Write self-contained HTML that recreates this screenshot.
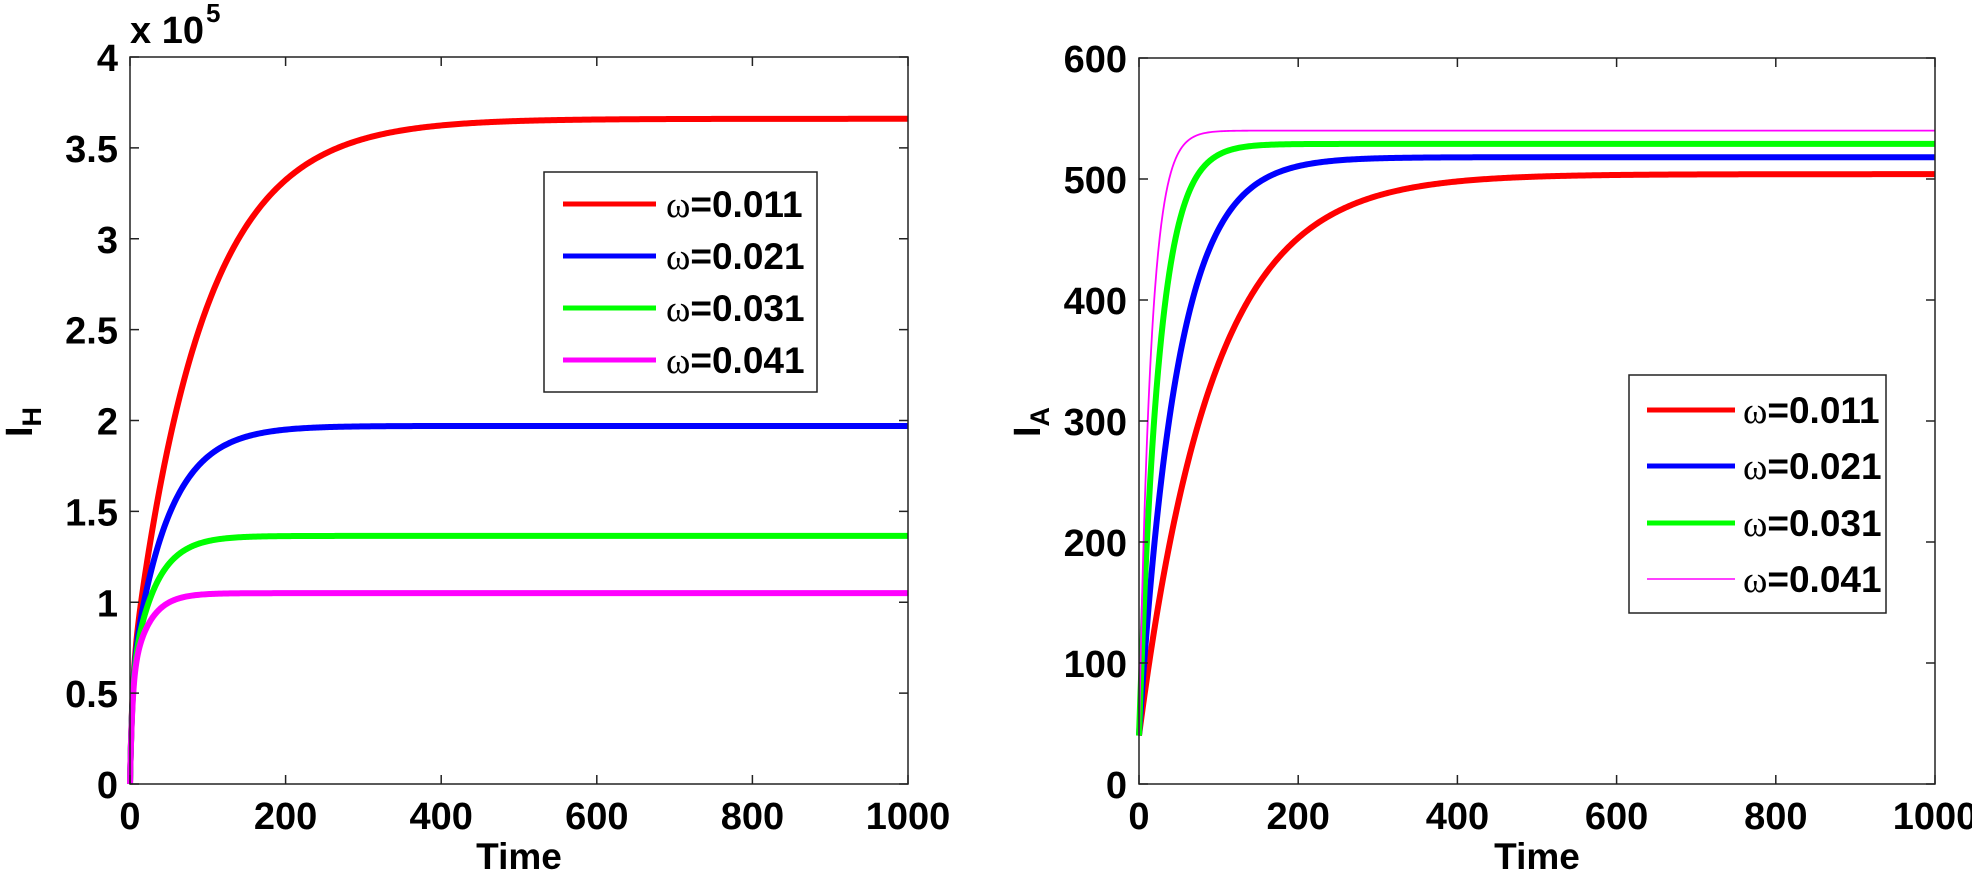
<!DOCTYPE html>
<html><head><meta charset="utf-8"><style>
html,body{margin:0;padding:0;background:#fff;}
svg{display:block;font-family:"Liberation Sans",Arial,sans-serif;font-weight:bold;}
</style></head><body>
<svg id="s" width="1972" height="874" viewBox="0 0 1972 874" xmlns="http://www.w3.org/2000/svg">
<rect width="1972" height="874" fill="#fff"/>
<g id="g"></g>
<!-- left legend -->
<rect x="544" y="172" width="273" height="220" fill="#fff" stroke="#222" stroke-width="1.5"/>
<g stroke-width="5">
<line x1="563" y1="204" x2="656" y2="204" stroke="#ff0000"/>
<line x1="563" y1="256" x2="656" y2="256" stroke="#0000ff"/>
<line x1="563" y1="308" x2="656" y2="308" stroke="#00ff00"/>
<line x1="563" y1="360" x2="656" y2="360" stroke="#ff00ff"/>
</g>
<g font-size="37">
<text x="666" y="217"><tspan font-family="Liberation Serif" font-weight="normal">ω</tspan>=0.011</text>
<text x="666" y="269"><tspan font-family="Liberation Serif" font-weight="normal">ω</tspan>=0.021</text>
<text x="666" y="321"><tspan font-family="Liberation Serif" font-weight="normal">ω</tspan>=0.031</text>
<text x="666" y="373"><tspan font-family="Liberation Serif" font-weight="normal">ω</tspan>=0.041</text>
</g>
<!-- right legend -->
<rect x="1629" y="375" width="257" height="238" fill="#fff" stroke="#222" stroke-width="1.5"/>
<g stroke-width="5">
<line x1="1647" y1="410" x2="1735" y2="410" stroke="#ff0000"/>
<line x1="1647" y1="466" x2="1735" y2="466" stroke="#0000ff"/>
<line x1="1647" y1="523" x2="1735" y2="523" stroke="#00ff00"/>
<line x1="1647" y1="579" x2="1735" y2="579" stroke="#ff00ff" stroke-width="1.5"/>
</g>
<g font-size="37">
<text x="1743" y="423"><tspan font-family="Liberation Serif" font-weight="normal">ω</tspan>=0.011</text>
<text x="1743" y="479"><tspan font-family="Liberation Serif" font-weight="normal">ω</tspan>=0.021</text>
<text x="1743" y="536"><tspan font-family="Liberation Serif" font-weight="normal">ω</tspan>=0.031</text>
<text x="1743" y="592"><tspan font-family="Liberation Serif" font-weight="normal">ω</tspan>=0.041</text>
</g>
<!-- x10^5 -->
<text x="130" y="43" font-size="38">x 10</text>
<text x="206" y="22" font-size="26">5</text>
<!-- axis labels -->
<text x="519" y="869" font-size="37" text-anchor="middle">Time</text>
<text x="1537" y="869" font-size="37" text-anchor="middle">Time</text>
<text transform="translate(32,437) rotate(-90)" font-size="38">I<tspan font-size="27" dy="9">H</tspan></text>
<text transform="translate(1040,437) rotate(-90)" font-size="38">I<tspan font-size="27" dy="9">A</tspan></text>
</svg>
<script>
var NS="http://www.w3.org/2000/svg",g=document.getElementById('g');
function el(t,a,txt){var e=document.createElementNS(NS,t);for(var k in a)e.setAttribute(k,a[k]);if(txt!==undefined)e.textContent=txt;g.appendChild(e);return e;}
function axes(L,R,T,B,ymax,ystep,ylab){
  var sx=(R-L)/1000,sy=(B-T)/ymax;
  return {L:L,R:R,T:T,B:B,X:function(t){return L+t*sx},Y:function(v){return B-v*sy},ymax:ymax,ystep:ystep,ylab:ylab};
}
function frame(a){
  el('rect',{x:a.L,y:a.T,width:a.R-a.L,height:a.B-a.T,fill:'none',stroke:'#222','stroke-width':1.5});
  for(var t=0;t<=1000;t+=200){var x=a.X(t);
    el('line',{x1:x,y1:a.B,x2:x,y2:a.B-9,stroke:'#222','stroke-width':1.5});
    el('line',{x1:x,y1:a.T,x2:x,y2:a.T+9,stroke:'#222','stroke-width':1.5});
    el('text',{x:x,y:829,'font-size':38,'text-anchor':'middle'},String(t));}
  for(var i=0;i*a.ystep<=a.ymax+1e-9;i++){var v=i*a.ystep,y=a.Y(v);
    el('line',{x1:a.L,y1:y,x2:a.L+9,y2:y,stroke:'#222','stroke-width':1.5});
    el('line',{x1:a.R,y1:y,x2:a.R-9,y2:y,stroke:'#222','stroke-width':1.5});
    el('text',{x:a.L-12,y:y+14,'font-size':38,'text-anchor':'end'},a.ylab(v));}
}
function curve(a,f,col,w){
  var d='';for(var t=0;t<=1000;t+= (t<20?0.5:2)){d+=(d?'L':'M')+a.X(t).toFixed(2)+','+a.Y(f(t)).toFixed(2);}
  el('path',{d:d,fill:'none',stroke:col,'stroke-width':w,'stroke-linejoin':'round'});
}
var A=axes(130,908,57,784,4,0.5,function(v){return String(v)});
function lf(eq,tau){var a=0.55;return function(t){return a*(1-Math.exp(-t/3))+(eq-a)*(1-Math.exp(-t/tau));};}
curve(A,lf(3.66,90),'#ff0000',6);
curve(A,lf(1.97,47),'#0000ff',6);
curve(A,lf(1.365,30),'#00ff00',6);
curve(A,lf(1.05,22),'#ff00ff',6);
frame(A);
var B=axes(1139,1935,58,784,600,100,function(v){return String(v)});
function rf(eq,tau){return function(t){return 40+(eq-40)*(1-Math.exp(-t/tau));};}
curve(B,rf(504,92),'#ff0000',6);
curve(B,rf(518,48),'#0000ff',6);
curve(B,rf(529,25),'#00ff00',6);
curve(B,rf(540,15),'#ff00ff',1.8);
frame(B);
</script>
</body></html>
